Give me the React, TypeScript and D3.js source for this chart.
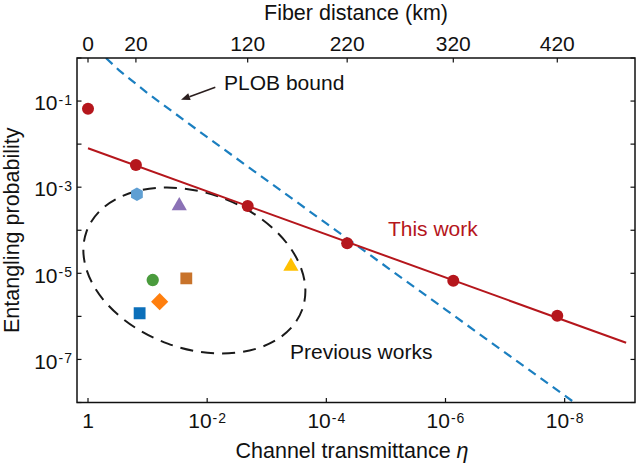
import React from "react";
import * as d3 from "d3";

// ---- Data ----
const thisWorkDistanceKm = [0, 20, 120, 220, 320, 420];
const thisWorkEta = [1, 0.157, 2.09e-3, 4.47e-5, 7.4e-7, 1.33e-8];
const thisWorkProb = [6.65e-2, 3.27e-3, 3.66e-4, 4.97e-5, 6.73e-6, 1.04e-6];

const fitEta = [1, 9.3e-10];
const fitProb = [8.0e-3, 2.44e-7];

const plobEta = [0.5, 0.3, 0.1, 1e-2, 1e-4, 1e-6, 6.9e-9];
const plobProb = [1.0, 0.515, 0.152, 1.45e-2, 1.44e-4, 1.44e-6, 1.0e-8];

const prevEta = [0.151, 0.0294, 0.082, 0.0224, 0.0627, 0.136, 3.93e-4];
const prevProb = [6.86e-4, 3.7e-4, 6.98e-6, 7.65e-6, 2.19e-6, 1.18e-6, 1.45e-5];
const prevShape = ["hexagon", "triangle", "circle", "square", "diamond", "square", "triangle"];
const prevColor = ["#5f9fd3", "#8b72b6", "#4a9b3d", "#c8732b", "#ff7f0e", "#0b6fba", "#ffc000"];

const xDomain = [1.53, 6.6e-10];
const yDomain = [1, 1e-8];
const xTickExps = [0, -2, -4, -6, -8];
const yTickExps = [0, -1, -2, -3, -4, -5, -6, -7, -8];
const yLabelExps = [-1, -3, -5, -7];
const topTickKm = thisWorkDistanceKm;
const topTickEta = thisWorkEta;

// ellipse annotation (centre in data units, radii in px)
const ellipseCenter = [0.0164, 1.16e-5];
const ellipseRadii = [114.7, 77.8];
const ellipseAngle = 20;

// annotation anchors in data units
const plobLabelPos = [5.2e-3, 0.18];
const arrowTail = [7.3e-3, 0.209];
const arrowHead = [0.0275, 0.1076];
const thisWorkLabelPos = [9.25e-6, 7.35e-5];
const prevLabelPos = [4.07e-4, 1.02e-7];

const FONT = "'Liberation Sans', Arial, Helvetica, sans-serif";
const RED = "#b5161c";
const BLUE = "#1b7fc0";

function markerPath(shape: string): string {
  if (shape === "hexagon") {
    const r = 6.8;
    const pts = d3.range(6).map((i) => {
      const a = (Math.PI / 3) * i + Math.PI / 6;
      return [r * Math.cos(a), r * Math.sin(a)];
    });
    return "M" + pts.map((p) => p.join(",")).join("L") + "Z";
  }
  if (shape === "diamond") {
    const r = 8.6;
    return `M0,${-r}L${r},0L0,${r}L${-r},0Z`;
  }
  if (shape === "triangle") return d3.symbol().type(d3.symbolTriangle).size(100)() as string;
  if (shape === "square") return d3.symbol().type(d3.symbolSquare).size(140)() as string;
  return d3.symbol().type(d3.symbolCircle).size(120)() as string;
}

function Pow10({ x, y, exp, anchor }: { x: number; y: number; exp: number; anchor: string }) {
  return (
    <text x={x} y={y} textAnchor={anchor} fontFamily={FONT} fontSize={21} fill="#111">
      10
      <tspan fontSize={14} dy={-5.3} dx={1}>-</tspan>
      <tspan fontSize={14} dx={1}>{String(Math.abs(exp))}</tspan>
    </text>
  );
}

export default function App() {
  const W = 640;
  const H = 466;
  const L = 77, R = 635, T = 58, B = 402.5;
  const x = d3.scaleLog().domain(xDomain).range([L, R]);
  const y = d3.scaleLog().domain(yDomain).range([T, B]);

  const line = d3
    .line<[number, number]>()
    .x((d) => x(d[0]))
    .y((d) => y(d[1]));

  const fitPts = fitEta.map((e, i) => [e, fitProb[i]] as [number, number]);
  const plobPts = plobEta.map((e, i) => [e, plobProb[i]] as [number, number]);

  const ecx = x(ellipseCenter[0]);
  const ecy = y(ellipseCenter[1]);

  const ax1 = x(arrowTail[0]), ay1 = y(arrowTail[1]);
  const ax2 = x(arrowHead[0]), ay2 = y(arrowHead[1]);
  const ang = Math.atan2(ay2 - ay1, ax2 - ax1);
  const headLen = 9, headW = 3.6;
  const bx = ax2 - headLen * Math.cos(ang), by = ay2 - headLen * Math.sin(ang);
  const head = `M${ax2},${ay2}L${bx + headW * Math.sin(ang)},${by - headW * Math.cos(ang)}L${bx - headW * Math.sin(ang)},${by + headW * Math.cos(ang)}Z`;

  const tk = 4.5;

  return (
    <svg
      width={W}
      height={H}
      style={{ position: "absolute", left: 0, top: 0, background: "#fff" }}
    >
      <defs>
        <clipPath id="plotclip">
          <rect x={L} y={T} width={R - L} height={B - T} />
        </clipPath>
      </defs>
      <rect x={0} y={0} width={W} height={H} fill="#fff" />

      <g clipPath="url(#plotclip)">
        <ellipse
          cx={ecx}
          cy={ecy}
          rx={ellipseRadii[0]}
          ry={ellipseRadii[1]}
          transform={`rotate(${ellipseAngle} ${ecx} ${ecy})`}
          fill="none"
          stroke="#1a1a1a"
          strokeWidth={2}
          strokeDasharray="13,8"
        />
        <path d={line(plobPts) as string} fill="none" stroke={BLUE} strokeWidth={2.2} strokeDasharray="9,6" />
        <path d={line(fitPts) as string} fill="none" stroke={RED} strokeWidth={2} />
        {prevEta.map((e, i) => (
          <path
            key={"p" + i}
            d={markerPath(prevShape[i])}
            transform={`translate(${x(e)},${y(prevProb[i])})`}
            fill={prevColor[i]}
          />
        ))}
        {thisWorkEta.map((e, i) => (
          <circle key={"r" + i} cx={x(e)} cy={y(thisWorkProb[i])} r={6} fill={RED} />
        ))}
      </g>

      {/* annotations */}
      <line x1={ax1} y1={ay1} x2={bx} y2={by} stroke="#2a1e1e" strokeWidth={1.6} />
      <path d={head} fill="#2a1e1e" />
      <text x={x(plobLabelPos[0])} y={y(plobLabelPos[1])} fontFamily={FONT} fontSize={21} fill="#111">
        PLOB bound
      </text>
      <text x={x(thisWorkLabelPos[0])} y={y(thisWorkLabelPos[1])} fontFamily={FONT} fontSize={21} fill={RED}>
        This work
      </text>
      <text x={x(prevLabelPos[0])} y={y(prevLabelPos[1])} fontFamily={FONT} fontSize={21} fill="#111">
        Previous works
      </text>

      {/* ticks */}
      <g stroke="#111" strokeWidth={1.2}>
        {yTickExps.map((k) => (
          <g key={"yt" + k}>
            <line x1={L} x2={L + tk} y1={y(Math.pow(10, k))} y2={y(Math.pow(10, k))} />
            <line x1={R} x2={R - tk} y1={y(Math.pow(10, k))} y2={y(Math.pow(10, k))} />
          </g>
        ))}
        {xTickExps.map((k) => (
          <line key={"xt" + k} x1={x(Math.pow(10, k))} x2={x(Math.pow(10, k))} y1={B} y2={B - tk} />
        ))}
        {topTickEta.map((e, i) => (
          <line key={"tt" + i} x1={x(e)} x2={x(e)} y1={T} y2={T + tk} />
        ))}
      </g>
      <rect x={L} y={T} width={R - L} height={B - T} fill="none" stroke="#111" strokeWidth={1.5} />

      {/* tick labels */}
      {yLabelExps.map((k) => (
        <Pow10 key={"yl" + k} x={L - 5} y={y(Math.pow(10, k)) + 9.3} exp={k} anchor="end" />
      ))}
      {xTickExps.map((k) =>
        k === 0 ? (
          <text key="xl0" x={x(1)} y={428} textAnchor="middle" fontFamily={FONT} fontSize={21} fill="#111">
            1
          </text>
        ) : (
          <Pow10 key={"xl" + k} x={x(Math.pow(10, k))} y={428} exp={k} anchor="middle" />
        )
      )}
      {topTickEta.map((e, i) => (
        <text key={"tl" + i} x={x(e)} y={51} textAnchor="middle" fontFamily={FONT} fontSize={21} fill="#111">
          {String(topTickKm[i])}
        </text>
      ))}

      {/* axis titles */}
      <text x={(L + R) / 2} y={19.5} textAnchor="middle" fontFamily={FONT} fontSize={21.5} fill="#111">
        Fiber distance (km)
      </text>
      <text x={352} y={458} textAnchor="middle" fontFamily={FONT} fontSize={21.5} fill="#111">
        Channel transmittance <tspan fontStyle="italic">η</tspan>
      </text>
      <text
        transform={`translate(19,${(T + B) / 2}) rotate(-90)`}
        textAnchor="middle"
        fontFamily={FONT}
        fontSize={21.5}
        fill="#111"
      >
        Entangling probability
      </text>
    </svg>
  );
}
